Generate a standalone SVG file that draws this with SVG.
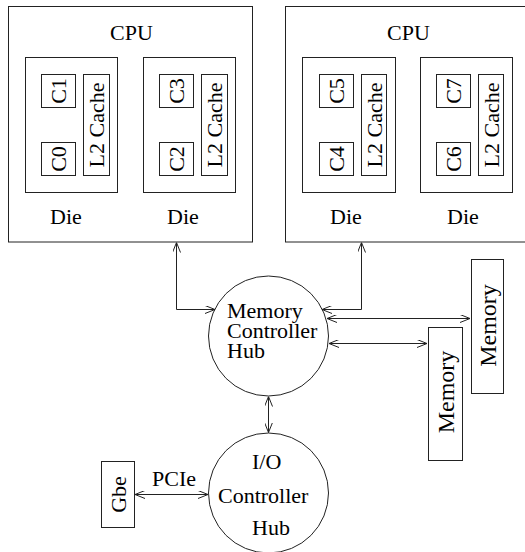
<svg xmlns="http://www.w3.org/2000/svg" width="525" height="552" viewBox="0 0 525 552">
<defs>
<style>
.b{fill:none;stroke:#222;stroke-width:1}
.t{font-family:"Liberation Serif","Times New Roman",serif;font-size:22px;fill:#000}
.c{text-anchor:middle}
.m{font-size:24px}
.l{fill:none;stroke:#222;stroke-width:1;marker-start:url(#ah);marker-end:url(#ah)}
</style>
<marker id="ah" viewBox="0 0 10 8" refX="10" refY="4" markerWidth="10" markerHeight="8" markerUnits="userSpaceOnUse" orient="auto-start-reverse">
<path d="M0,0 L10,4 L0,8" fill="none" stroke="#222" stroke-width="1"/>
</marker>
</defs>
<g id="cpu1">
<rect class="b" x="8.5" y="6.5" width="244" height="235.5"/>
<text class="t" x="110" y="40">CPU</text>
<text class="t" x="50" y="224">Die</text>
<text class="t" x="167" y="224">Die</text>
</g>
<g id="die1">
<rect class="b" x="25.5" y="57.5" width="92" height="135"/>
<rect class="b" x="41.5" y="74.5" width="34" height="33"/>
<text class="t c" transform="translate(58,91) rotate(-90)" y="7.5">C1</text>
<rect class="b" x="41.5" y="142.5" width="34" height="33"/>
<text class="t c" transform="translate(58,159) rotate(-90)" y="7.5">C0</text>
<rect class="b" x="83.5" y="74.5" width="26" height="101"/>
<text class="t c" transform="translate(96.5,125) rotate(-90)" y="7.5">L2 Cache</text>
</g>
<g id="die2">
<rect class="b" x="143.5" y="57.5" width="92" height="135"/>
<rect class="b" x="159.5" y="74.5" width="34" height="33"/>
<text class="t c" transform="translate(176,91) rotate(-90)" y="7.5">C3</text>
<rect class="b" x="159.5" y="142.5" width="34" height="33"/>
<text class="t c" transform="translate(176,159) rotate(-90)" y="7.5">C2</text>
<rect class="b" x="201.5" y="74.5" width="26" height="101"/>
<text class="t c" transform="translate(214.5,125) rotate(-90)" y="7.5">L2 Cache</text>
</g>
<g id="cpu2">
<rect class="b" x="285.5" y="6.5" width="244" height="235.5"/>
<text class="t" x="387" y="40">CPU</text>
<text class="t" x="330" y="224">Die</text>
<text class="t" x="447" y="224">Die</text>
</g>
<g id="die3">
<rect class="b" x="302.5" y="57.5" width="93" height="135"/>
<rect class="b" x="319.5" y="74.5" width="34" height="33"/>
<text class="t c" transform="translate(336,91) rotate(-90)" y="7.5">C5</text>
<rect class="b" x="319.5" y="142.5" width="34" height="33"/>
<text class="t c" transform="translate(336,159) rotate(-90)" y="7.5">C4</text>
<rect class="b" x="361.5" y="74.5" width="25" height="101"/>
<text class="t c" transform="translate(374,125) rotate(-90)" y="7.5">L2 Cache</text>
</g>
<g id="die4">
<rect class="b" x="420.5" y="57.5" width="92" height="135"/>
<rect class="b" x="436.5" y="74.5" width="34" height="33"/>
<text class="t c" transform="translate(453,91) rotate(-90)" y="7.5">C7</text>
<rect class="b" x="436.5" y="142.5" width="34" height="33"/>
<text class="t c" transform="translate(453,159) rotate(-90)" y="7.5">C6</text>
<rect class="b" x="478.5" y="74.5" width="25" height="101"/>
<text class="t c" transform="translate(491,125) rotate(-90)" y="7.5">L2 Cache</text>
</g>
<g id="mch">
<circle class="b" cx="268.5" cy="336" r="60"/>
<text class="t" x="227" y="318">Memory</text>
<text class="t" x="227" y="338">Controller</text>
<text class="t" x="227" y="358">Hub</text>
</g>
<g id="ioh">
<circle class="b" cx="268.5" cy="493" r="60"/>
<text class="t" x="252" y="469">I/O</text>
<text class="t" x="218" y="503">Controller</text>
<text class="t" x="252" y="535">Hub</text>
</g>
<g id="memory1">
<rect class="b" x="471.5" y="259.5" width="32" height="134"/>
<text class="t c m" transform="translate(487.5,325.5) rotate(-90)" y="8">Memory</text>
</g>
<g id="memory2">
<rect class="b" x="428.5" y="327.5" width="34" height="133"/>
<text class="t c m" transform="translate(445.5,392) rotate(-90)" y="8">Memory</text>
</g>
<g id="gbe">
<rect class="b" x="101.5" y="461.5" width="33" height="66"/>
<text class="t c" transform="translate(118,494.5) rotate(-90)" y="7.5">Gbe</text>
</g>
<g id="connectors">
<path class="l" d="M176.5,242.5 V309.5 H215"/>
<path class="l" d="M361.5,242.5 V309.5 H322"/>
<path class="l" d="M327,318.5 H470"/>
<path class="l" d="M329,343.5 H427"/>
<path class="l" d="M268.5,396.5 V432.5"/>
<path class="l" d="M135,494.5 H208"/>
<text class="t" x="152" y="486">PCIe</text>
</g>
</svg>
